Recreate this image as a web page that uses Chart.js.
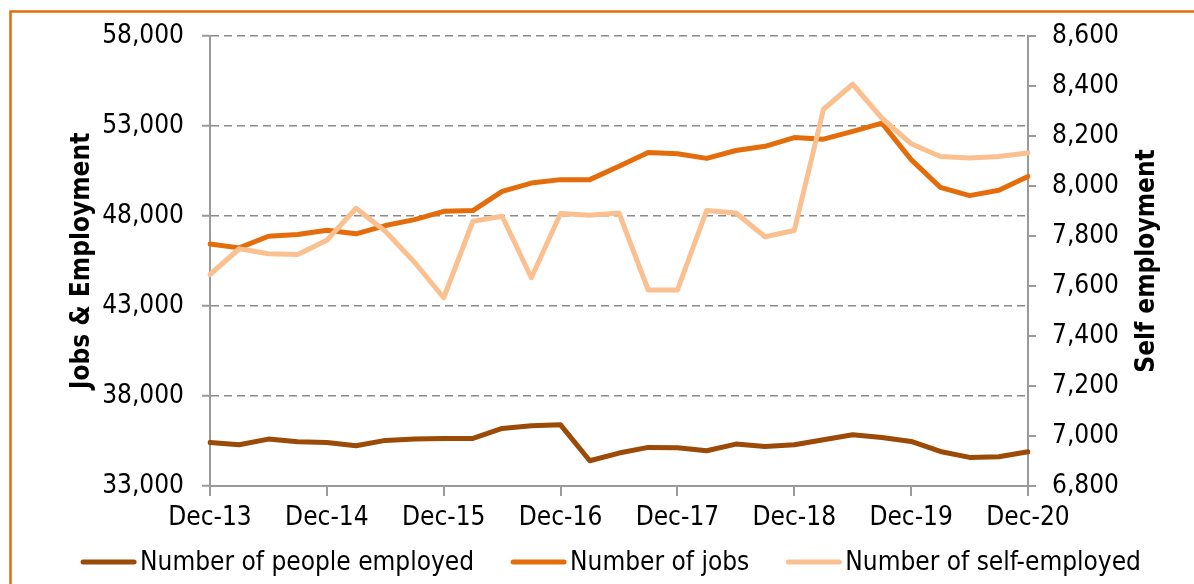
<!DOCTYPE html>
<html>
<head>
<meta charset="utf-8">
<script src="https://cdn.jsdelivr.net/npm/chart.js@4/dist/chart.umd.min.js"></script>
<style>
  html, body { margin: 0; padding: 0; background: #fff; }
  #wrap { width: 1194px; height: 584px; position: relative; }
</style>
</head>
<body>
<div id="wrap"><canvas id="c" width="1194" height="584"></canvas></div>
<script>
const categories = [
  'Dec-13','Mar-14','Jun-14','Sep-14','Dec-14','Mar-15','Jun-15','Sep-15',
  'Dec-15','Mar-16','Jun-16','Sep-16','Dec-16','Mar-17','Jun-17','Sep-17',
  'Dec-17','Mar-18','Jun-18','Sep-18','Dec-18','Mar-19','Jun-19','Sep-19',
  'Dec-19','Mar-20','Jun-20','Sep-20','Dec-20'
];
const peopleEmployed = [
  35420, 35290, 35605, 35456, 35420, 35234, 35533, 35605,
  35643, 35643, 36198, 36344, 36400, 34403, 34830, 35144,
  35130, 34958, 35328, 35200, 35290, 35570, 35846, 35700,
  35475, 34920, 34590, 34630, 34900
];
const numberOfJobs = [
  46450, 46230, 46875, 46970, 47210, 47010, 47470, 47800,
  48260, 48300, 49370, 49830, 50020, 50020, 50760, 51530,
  51460, 51200, 51640, 51870, 52360, 52270, 52700, 53160,
  51130, 49590, 49130, 49430, 50200
];
const selfEmployed = [
  7646, 7749, 7729, 7726, 7783, 7911, 7819, 7695,
  7553, 7859, 7879, 7633, 7890, 7883, 7892, 7584,
  7584, 7902, 7892, 7797, 7822, 8307, 8407, 8271,
  8169, 8118, 8112, 8118, 8132
];
const seriesNames = ['Number of people employed', 'Number of jobs', 'Number of self-employed'];
const leftTitle = 'Jobs & Employment';
const rightTitle = 'Self employment';

const FONT = "'DejaVu Sans Condensed', 'DejaVu Sans', sans-serif";
const FS = 26;
const COLORS = ['#9C4A07', '#E46C0A', '#FAC090'];
const AXIS = '#9a9a9a';
const GRID = '#8a8a8a';

const framePlugin = {
  id: 'frame',
  beforeDraw(chart) {
    const ctx = chart.ctx;
    ctx.save();
    ctx.fillStyle = '#fff';
    ctx.fillRect(0, 0, chart.width, chart.height);
    ctx.strokeStyle = '#E46C0A';
    ctx.lineWidth = 2.5;
    ctx.strokeRect(10.5, 11.5, 1400, 900);
    ctx.restore();
  },
  afterDraw(chart) {
    const ctx = chart.ctx;
    const ca = chart.chartArea;
    const cy = (ca.top + ca.bottom) / 2;
    ctx.save();
    ctx.fillStyle = '#000';
    ctx.font = 'bold ' + FS + 'px ' + FONT;
    ctx.textAlign = 'center';
    ctx.textBaseline = 'middle';
    ctx.save();
    ctx.translate(82, cy);
    ctx.rotate(-Math.PI / 2);
    ctx.fillText(leftTitle, 0, 0);
    ctx.restore();
    ctx.save();
    ctx.translate(1147, cy);
    ctx.rotate(-Math.PI / 2);
    ctx.fillText(rightTitle, 0, 0);
    ctx.restore();

    // legend
    ctx.font = FS + 'px ' + FONT;
    ctx.textAlign = 'left';
    const sample = 55, gap = 4, spacing = 37;
    const ds = chart.data.datasets;
    const widths = ds.map(d => ctx.measureText(d.label).width);
    let total = 0;
    widths.forEach((w, i) => { total += sample + gap + w + (i < widths.length - 1 ? spacing : 0); });
    let x = 611 - total / 2;
    const y = 562;
    ds.forEach((d, i) => {
      ctx.strokeStyle = d.borderColor;
      ctx.lineWidth = 5;
      ctx.lineCap = 'round';
      ctx.beginPath();
      ctx.moveTo(x + 2, y);
      ctx.lineTo(x + sample - 2, y);
      ctx.stroke();
      ctx.fillStyle = '#000';
      ctx.fillText(d.label, x + sample + gap, y + 1);
      x += sample + gap + widths[i] + spacing;
    });
    ctx.restore();
  }
};

const lineStyle = {
  borderWidth: 5,
  pointRadius: 0,
  pointHoverRadius: 0,
  tension: 0,
  fill: false,
  borderJoinStyle: 'round',
  borderCapStyle: 'round'
};

new Chart(document.getElementById('c'), {
  type: 'line',
  data: {
    labels: categories,
    datasets: [
      Object.assign({ label: seriesNames[0], data: peopleEmployed, borderColor: COLORS[0], backgroundColor: COLORS[0], yAxisID: 'y', order: 2 }, lineStyle),
      Object.assign({ label: seriesNames[1], data: numberOfJobs, borderColor: COLORS[1], backgroundColor: COLORS[1], yAxisID: 'y', order: 1 }, lineStyle),
      Object.assign({ label: seriesNames[2], data: selfEmployed, borderColor: COLORS[2], backgroundColor: COLORS[2], yAxisID: 'y2', order: 0 }, lineStyle)
    ]
  },
  options: {
    responsive: false,
    animation: false,
    events: [],
    layout: { padding: { top: 36, left: 0, right: 0, bottom: 0 } },
    plugins: { legend: { display: false }, tooltip: { enabled: false } },
    scales: {
      x: {
        type: 'category',
        offset: false,
        afterFit(s) { s.height = 98; },
        grid: { display: true, drawOnChartArea: false, drawTicks: true, tickLength: 10, color: AXIS, lineWidth: 2 },
        border: { display: true, color: AXIS, width: 2 },
        ticks: {
          autoSkip: false, maxRotation: 0, minRotation: 0, padding: 7,
          color: '#000', font: { family: FONT, size: FS },
          callback(v, i) { return i % 4 === 0 ? this.getLabelForValue(v) : null; }
        }
      },
      y: {
        position: 'left',
        min: 33000, max: 58000,
        afterFit(s) { s.width = 210; },
        grid: { color: GRID, lineWidth: 1.5, tickLength: 8, tickColor: AXIS, tickWidth: 2 },
        border: { display: true, color: AXIS, width: 2, dash: [8, 5] },
        ticks: {
          stepSize: 5000, padding: 18, color: '#000', font: { family: FONT, size: FS },
          callback(v) { return v.toLocaleString('en-US'); }
        }
      },
      y2: {
        position: 'right',
        min: 6800, max: 8600,
        afterFit(s) { s.width = 166; },
        grid: { drawOnChartArea: false, color: AXIS, lineWidth: 2, tickLength: 8 },
        border: { display: true, color: AXIS, width: 2 },
        ticks: {
          stepSize: 200, padding: 16, color: '#000', font: { family: FONT, size: FS },
          callback(v) { return v.toLocaleString('en-US'); }
        }
      }
    }
  },
  plugins: [framePlugin]
});
</script>
</body>
</html>
